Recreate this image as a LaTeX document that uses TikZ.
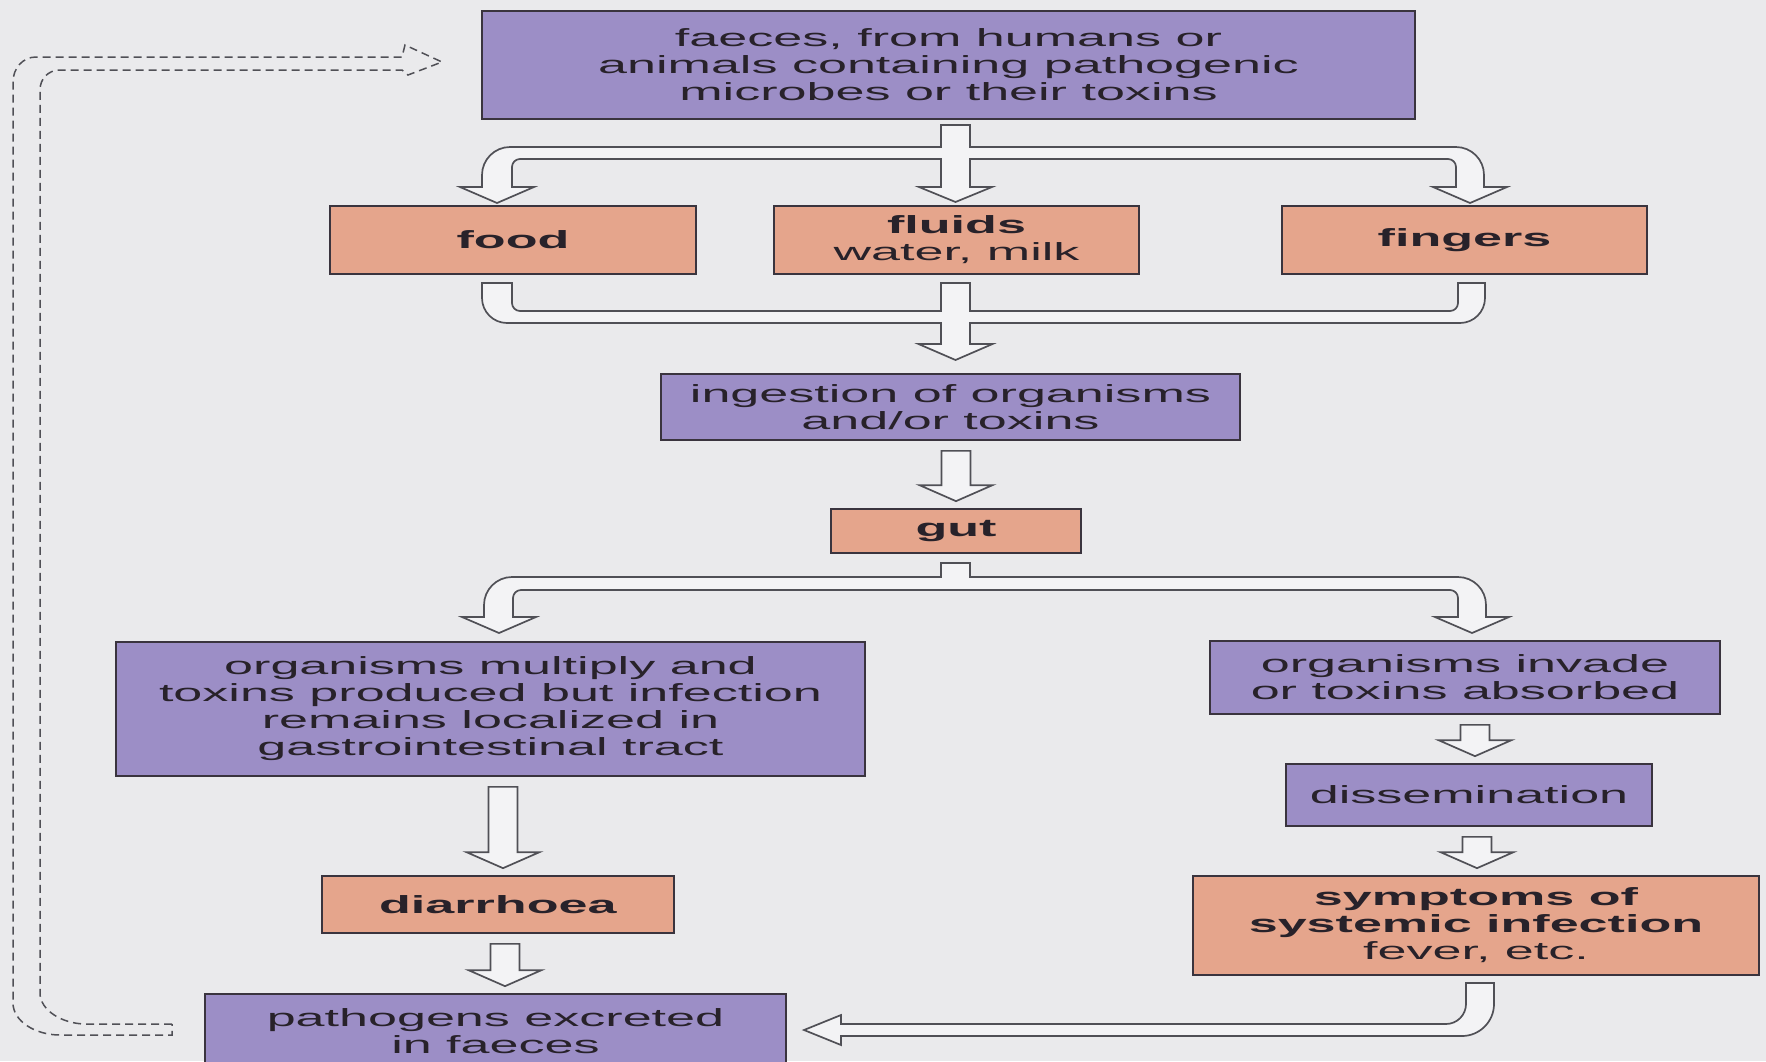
\documentclass[tikz,border=0pt]{standalone}
\usepackage{fontspec}
\setmainfont{Liberation Sans}[FakeStretch=2.1]
\usetikzlibrary{calc}
\definecolor{bgc}{RGB}{234,234,236}
\definecolor{purplec}{RGB}{156,142,198}
\definecolor{salmonc}{RGB}{229,165,140}
\definecolor{boxline}{RGB}{58,52,62}
\definecolor{arrline}{RGB}{80,80,86}
\definecolor{arrfill}{RGB}{243,243,245}
\definecolor{textc}{RGB}{40,34,42}
\tikzset{
  box/.style={draw=boxline, line width=1.7pt, inner sep=0pt, align=center, text=textc,
    font=\fontsize{24.8}{27}\selectfont},
  pbox/.style={box, fill=purplec},
  sbox/.style={box, fill=salmonc},
  hollow/.style={draw=arrline, fill=arrfill, line width=1.7pt, line join=miter},
  dashret/.style={draw=arrline, line width=1.5pt, dash pattern=on 8pt off 5pt}
}
\newcommand\blockarr[3]{%
  \draw[hollow] let \p1=(#2.south), \p2=(#3.north) in
    (#1pt-14.5pt,\y1-10pt) -- (#1pt+14.5pt,\y1-10pt) -- (#1pt+14.5pt,\y2+23pt)
    -- (#1pt+36.5pt,\y2+23pt) -- (#1pt,\y2+7pt) -- (#1pt-36.5pt,\y2+23pt)
    -- (#1pt-14.5pt,\y2+23pt) -- cycle;}
\begin{document}
\begin{tikzpicture}[x=1pt,y=-1pt]
\clip (0,0) rectangle (1766,1061);
\fill[bgc] (0,0) rectangle (1766,1061);

% nodes
\node[pbox, minimum width=933pt, minimum height=108pt] (faeces) at (948.5,65)
  {faeces, from humans or\\animals containing pathogenic\\microbes or their toxins};
\node[sbox, minimum width=366pt, minimum height=68pt] (food) at (513,240) {\textbf{food}};
\node[sbox, minimum width=365pt, minimum height=68pt] (fluids) at (956.5,240) {\textbf{fluids}\\water, milk};
\node[sbox, minimum width=365pt, minimum height=68pt] (fingers) at (1464.5,240) {\textbf{fingers}};
\node[pbox, minimum width=579pt, minimum height=66pt] (ingestion) at (950.5,407)
  {ingestion of organisms\\and/or toxins};
\node[sbox, minimum width=250pt, minimum height=44pt] (gut) at (956,531) {\textbf{gut}};
\node[pbox, minimum width=749pt, minimum height=134pt] (multiply) at (490.5,709)
  {organisms multiply and\\toxins produced but infection\\remains localized in\\gastrointestinal tract};
\node[pbox, minimum width=510pt, minimum height=73pt] (invade) at (1465,677.5)
  {organisms invade\\or toxins absorbed};
\node[pbox, minimum width=366pt, minimum height=62pt] (dissem) at (1469,795) {dissemination};
\node[sbox, minimum width=352pt, minimum height=57pt] (diarrhoea) at (498,904.5) {\textbf{diarrhoea}};
\node[sbox, minimum width=566pt, minimum height=99pt] (symptoms) at (1476,925.5)
  {\textbf{symptoms of}\\\textbf{systemic infection}\\fever, etc.};
\node[pbox, minimum width=581pt, minimum height=74pt] (pathogens) at (495.5,1031)
  {pathogens excreted\\in faeces};

% fork: faeces -> food, fluids, fingers
\draw[hollow] (941,125) -- (970,125) -- (970,147) -- (1456,147)
  .. controls (1471.4,147) and (1484,159.6) .. (1484,175)
  -- (1484,187) -- (1507,187) -- (1470,203) -- (1433,187) -- (1456,187) -- (1456,167)
  .. controls (1456,162.6) and (1452.4,159) .. (1448,159)
  -- (970,159) -- (970,187) -- (992,187) -- (955.5,202) -- (919,187) -- (941,187) -- (941,159)
  -- (520,159) .. controls (515.6,159) and (512,162.6) .. (512,167)
  -- (512,187) -- (534,187) -- (497,203) -- (460,187) -- (482,187) -- (482,175)
  .. controls (482,159.6) and (494.6,147) .. (510,147)
  -- (941,147) -- cycle;

% merge: food, fluids, fingers -> ingestion
\draw[hollow] (482,283) -- (512,283) -- (512,303)
  .. controls (512,307.4) and (515.6,311) .. (520,311)
  -- (941,311) -- (941,283) -- (970,283) -- (970,311) -- (1450,311)
  .. controls (1454.4,311) and (1458,307.4) .. (1458,303)
  -- (1458,283) -- (1485,283) -- (1485,298)
  .. controls (1485,311.75) and (1473.75,323) .. (1460,323)
  -- (970,323) -- (970,344) -- (992.5,344) -- (955.5,360) -- (918.5,344) -- (941,344) -- (941,323)
  -- (507,323) .. controls (493.25,323) and (482,311.75) .. (482,298) -- cycle;

% ingestion -> gut
\blockarr{956}{ingestion}{gut}

% fork: gut -> multiply, invade
\draw[hollow] (941,563) -- (970,563) -- (970,577) -- (1458,577)
  .. controls (1473.4,577) and (1486,589.6) .. (1486,605)
  -- (1486,617) -- (1509,617) -- (1472,633) -- (1435,617) -- (1458,617) -- (1458,598)
  .. controls (1458,593.6) and (1454.4,590) .. (1450,590)
  -- (521,590) .. controls (516.6,590) and (513,593.6) .. (513,598)
  -- (513,617) -- (536,617) -- (499,633) -- (462,617) -- (484,617) -- (484,605)
  .. controls (484,589.6) and (496.6,577) .. (512,577)
  -- (941,577) -- cycle;

% straight arrows
\blockarr{503}{multiply}{diarrhoea}
\blockarr{505}{diarrhoea}{pathogens}
\blockarr{1475}{invade}{dissem}
\blockarr{1477}{dissem}{symptoms}

% symptoms -> pathogens
\draw[hollow] (1466,983) -- (1494,983) -- (1494,1004)
  .. controls (1494,1021.6) and (1479.6,1036) .. (1462,1036)
  -- (841,1036) -- (841,1045) -- (804,1030) -- (841,1015) -- (841,1024) -- (1446,1024)
  .. controls (1457,1024) and (1466,1015) .. (1466,1004) -- cycle;

% dashed return: pathogens -> faeces
\draw[dashret] (172,1024) -- (86,1024)
  .. controls (62,1024) and (40,1010) .. (40,993)
  -- (40,90) .. controls (40,79) and (48,70) .. (60,70)
  -- (402,70) -- (408,75) -- (442,62) -- (405,45) -- (402,57) -- (36,57)
  .. controls (23,57) and (13,68) .. (13,82)
  -- (13,1003) .. controls (13,1021) and (35,1035) .. (60,1035)
  -- (172,1035) -- cycle;
\end{tikzpicture}
\end{document}
